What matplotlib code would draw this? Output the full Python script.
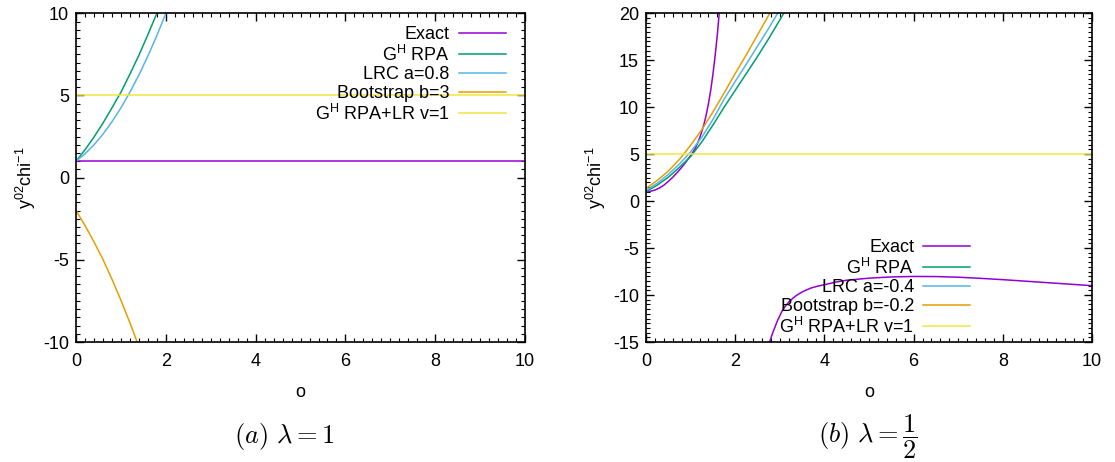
import numpy as np
import matplotlib.pyplot as plt
from matplotlib.ticker import MultipleLocator

plt.rcParams['font.family'] = ['Liberation Sans', 'DejaVu Sans']
plt.rcParams['mathtext.fontset'] = 'cm'
plt.rcParams['axes.unicode_minus'] = False

# couleurs gnuplot
c_exact = '#9400d3'
c_rpa = '#009e73'
c_lrc = '#56b4e9'
c_boot = '#e69f00'
c_lr = '#f0e442'

# (a) lambda = 1
xa_exact = [0, 10]
ya_exact = [1.0, 1.0]
xa_rpa = [0, 0.2, 0.4, 0.6, 0.8, 1.0, 1.2, 1.4, 1.6, 1.8, 2.0]
ya_rpa = [1.0, 1.7, 2.47, 3.32, 4.25, 5.2, 6.3, 7.45, 8.7, 10.0, 11.4]
xa_lrc = [0, 0.2, 0.4, 0.6, 0.8, 1.0, 1.2, 1.4, 1.6, 1.8, 2.0, 2.2]
ya_lrc = [1.0, 1.45, 2.0, 2.65, 3.4, 4.25, 5.2, 6.25, 7.4, 8.65, 10.0, 11.45]
xa_boot = [0, 0.2, 0.4, 0.6, 0.8, 1.0, 1.2, 1.4]
ya_boot = [-2.0, -2.91, -3.91, -4.98, -6.18, -7.46, -8.83, -10.29]
xa_lr = [0, 10]
ya_lr = [5.0, 5.0]

# (b) lambda = 1/2
xb_exact1 = [0, 0.1, 0.2, 0.3, 0.4, 0.5, 0.6, 0.7, 0.8, 0.9, 1.0, 1.05, 1.1, 1.15, 1.2,
             1.25, 1.3, 1.35, 1.4, 1.45, 1.5, 1.55, 1.6, 1.65, 1.7]
yb_exact1 = [1.0, 1.05, 1.18, 1.4, 1.7, 2.1, 2.55, 3.05, 3.6, 4.2, 4.85, 5.2, 5.6, 6.1, 6.7,
             7.4, 8.2, 9.2, 10.4, 11.8, 13.5, 15.5, 17.8, 20.5, 23.5]
xb_exact2 = [2.7, 2.77, 2.85, 2.95, 3.05, 3.12, 3.2, 3.3, 3.4, 3.55, 3.7, 3.85, 4.0, 4.25,
             4.5, 5.0, 5.5, 6.0, 6.5, 7.0, 7.5, 8.0, 8.5, 9.0, 9.5, 10.0]
yb_exact2 = [-16.0, -15.0, -13.9, -12.7, -11.7, -11.2, -10.75, -10.3, -9.95, -9.55, -9.25,
             -9.05, -8.9, -8.62, -8.42, -8.2, -8.07, -8.02, -8.03, -8.1, -8.22, -8.36,
             -8.52, -8.68, -8.84, -9.0]
xb = [0, 0.25, 0.5, 0.75, 1.0, 1.25, 1.5, 1.75, 2.0, 2.25, 2.5, 2.75, 3.0, 3.25]
yb_rpa = [1.0, 1.7, 2.55, 3.6, 4.75, 6.3, 8.1, 10.0, 11.8, 13.6, 15.4, 17.3, 19.3, 21.3]
yb_lrc = [1.15, 1.9, 2.85, 3.95, 5.25, 6.8, 8.7, 10.85, 12.75, 14.6, 16.5, 18.4, 20.4, 22.4]
yb_boot = [1.35, 2.2, 3.2, 4.45, 5.95, 7.6, 9.5, 11.5, 13.6, 15.6, 17.7, 19.8, 22.0, 24.0]
xb_lr = [0, 10]
yb_lr = [5.0, 5.0]

fig = plt.figure(figsize=(11.15, 4.62), dpi=100)
ax1 = fig.add_axes([0.0682, 0.2597, 0.4027, 0.7115])
ax2 = fig.add_axes([0.5794, 0.2597, 0.4000, 0.7115])

lw = 1.1
ax1.plot(xa_exact, ya_exact, color=c_exact, lw=lw, label='Exact')
ax1.plot(xa_rpa, ya_rpa, color=c_rpa, lw=lw, label=r'$\mathregular{G^H}$ RPA')
ax1.plot(xa_lrc, ya_lrc, color=c_lrc, lw=lw, label='LRC a=0.8')
ax1.plot(xa_boot, ya_boot, color=c_boot, lw=lw, label='Bootstrap b=3')
ax1.plot(xa_lr, ya_lr, color=c_lr, lw=lw, label=r'$\mathregular{G^H}$ RPA+LR v=1')
ax1.set_ylim(-10, 10)
ax1.yaxis.set_major_locator(MultipleLocator(5))
ax1.yaxis.set_minor_locator(MultipleLocator(0.5))

ax2.plot(xb_exact1, yb_exact1, color=c_exact, lw=lw, label='Exact')
ax2.plot(xb_exact2, yb_exact2, color=c_exact, lw=lw)
ax2.plot(xb, yb_rpa, color=c_rpa, lw=lw, label=r'$\mathregular{G^H}$ RPA')
ax2.plot(xb, yb_lrc, color=c_lrc, lw=lw, label='LRC a=-0.4')
ax2.plot(xb, yb_boot, color=c_boot, lw=lw, label='Bootstrap b=-0.2')
ax2.plot(xb_lr, yb_lr, color=c_lr, lw=lw, label=r'$\mathregular{G^H}$ RPA+LR v=1')
ax2.set_ylim(-15, 20)
ax2.yaxis.set_major_locator(MultipleLocator(5))
ax2.yaxis.set_minor_locator(MultipleLocator(0.5))

for ax in (ax1, ax2):
    ax.set_xlim(0, 10)
    ax.xaxis.set_major_locator(MultipleLocator(2))
    ax.xaxis.set_minor_locator(MultipleLocator(0.2))
    ax.tick_params(which='both', direction='in', top=True, right=True, labelsize=13)
    ax.tick_params(axis='x', pad=8)
    ax.tick_params(axis='y', pad=5)
    ax.tick_params(which='major', length=6, width=1)
    ax.tick_params(which='minor', length=3, width=0.8)
    for s in ax.spines.values():
        s.set_linewidth(1.2)
    ax.set_xlabel('o', fontsize=13, labelpad=10)
    ax.set_ylabel(r'$\mathregular{y^{02}chi^{-1}}$', fontsize=13, labelpad=4)

ax1.legend(loc='upper right', bbox_to_anchor=(0.985, 1.0), frameon=False, markerfirst=False,
           fontsize=13, labelspacing=0.09, handlelength=2.6, handletextpad=0.5, borderpad=0.2)
ax2.legend(loc='lower right', bbox_to_anchor=(0.755, -0.022), frameon=False, markerfirst=False,
           fontsize=13, labelspacing=0.09, handlelength=2.6, handletextpad=0.5, borderpad=0.2)

fig.text(0.255, 0.055, r'$\mathit{(a)}\ \lambda = 1$', fontsize=19, ha='center', va='center')
fig.text(0.778, 0.055, r'$\mathit{(b)}\ \lambda = \dfrac{1}{2}$', fontsize=19, ha='center', va='center')

fig.savefig('out.png', dpi=100)
